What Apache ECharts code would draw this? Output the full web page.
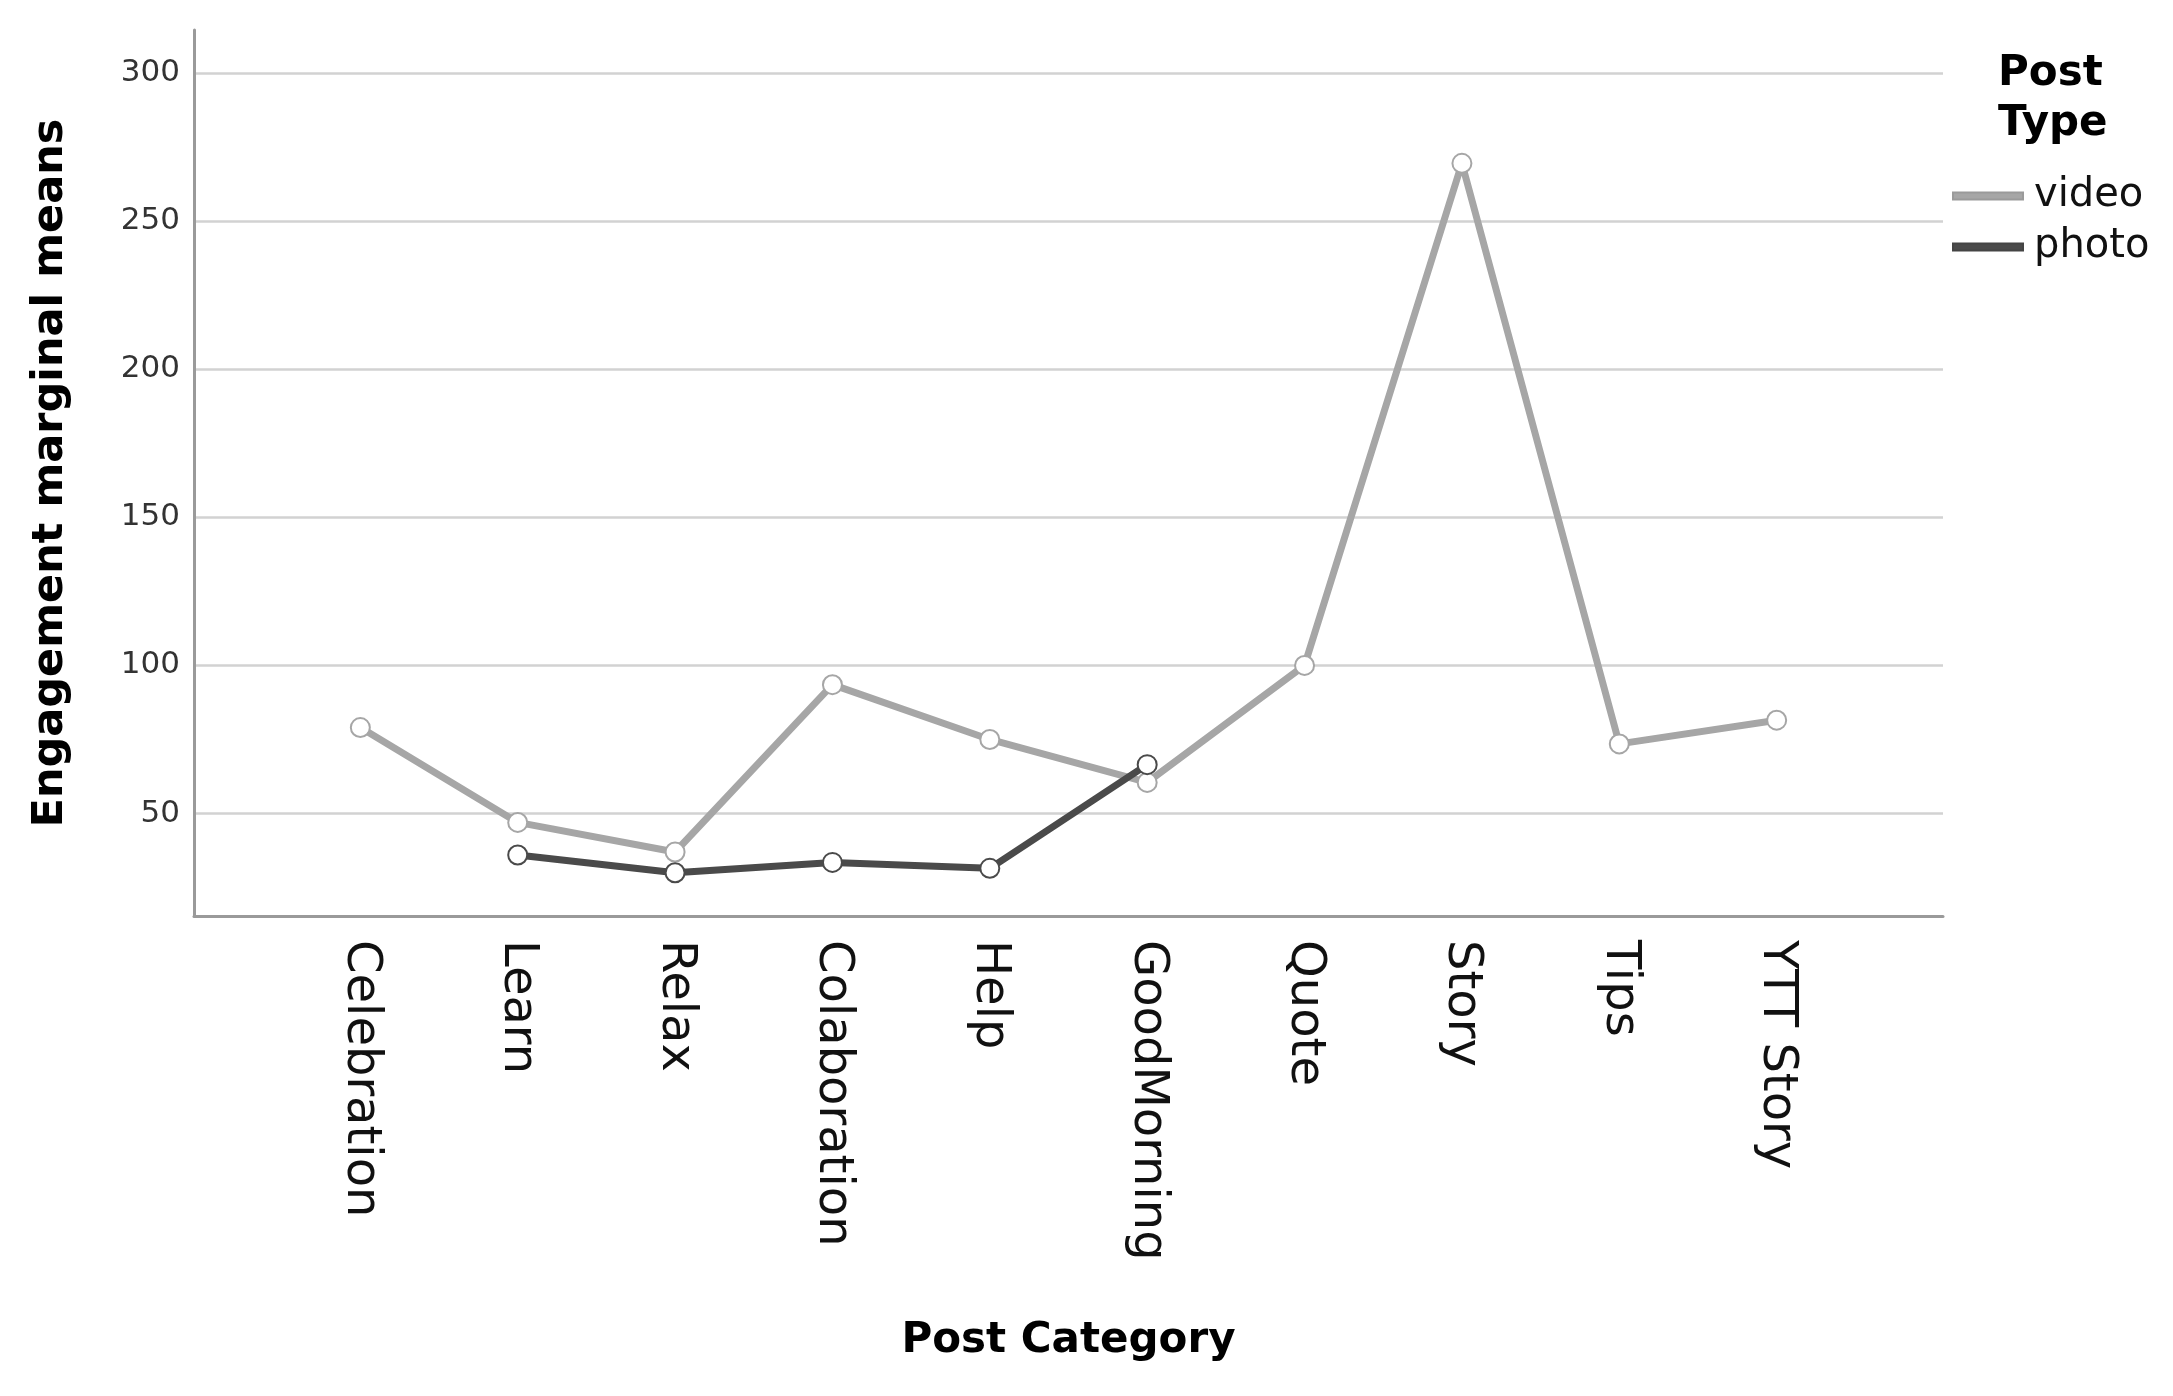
<!DOCTYPE html>
<html>
<head>
<meta charset="utf-8">
<script src="https://cdn.jsdelivr.net/npm/echarts@6/dist/echarts.min.js"></script>
<style>html,body{margin:0;padding:0;background:#fff;}#chart{width:2173px;height:1396px;}</style>
</head>
<body>
<div id="chart"></div>
<script>
const categories = ['Celebration','Learn','Relax','Colaboration','Help','GoodMorning','Quote','Story','Tips','YTT Story'];
const videoValues = [79, 47, 37, 93.5, 75, 60.5, 100, 269.5, 73.5, 81.5];
const photoValues = [null, 36, 30, 33.5, 31.5, 66.5, null, null, null, null];
const seriesNames = ['video', 'photo'];
const yTitle = 'Engagement marginal means';
const xTitle = 'Post Category';
const legendTitle = 'Post\nType';

const toPairs = vals => vals.map((v, i) => [i, v]);
const catIndices = categories.map((_, i) => i);
const FONT = 'DejaVu Sans';

const chart = echarts.init(document.getElementById('chart'));
chart.setOption({
  animation: false,
  backgroundColor: '#ffffff',
  textStyle: { fontFamily: FONT },
  title: {
    text: legendTitle,
    left: 1993, top: 44,
    textStyle: { fontFamily: FONT, fontSize: 42, fontWeight: 'bold', color: '#000', lineHeight: 50 }
  },
  legend: {
    orient: 'vertical',
    left: 1947, top: 169,
    icon: 'rect',
    itemWidth: 70, itemHeight: 7, itemGap: 7,
    textStyle: { fontFamily: FONT, fontSize: 40, color: '#111', lineHeight: 44, padding: [0,0,0,6] },
    data: seriesNames
  },
  grid: { left: 194, right: 230, top: 30, bottom: 480, outerBoundsMode: 'none' },
  xAxis: {
    type: 'value',
    min: -1.057, max: 10.057,
    name: xTitle,
    nameLocation: 'middle',
    nameGap: 404,
    nameTextStyle: { fontFamily: FONT, fontSize: 42, fontWeight: 'bold', color: '#000' },
    axisLine: { onZero: false, lineStyle: { color: '#9a9a9a', width: 3 } },
    axisTick: { show: false },
    splitLine: { show: false },
    axisLabel: {
      rotate: -90, margin: 24,
      customValues: catIndices,
      fontFamily: FONT, fontSize: 48, color: '#111',
      formatter: v => (categories[v] !== undefined ? categories[v] : '')
    }
  },
  yAxis: {
    type: 'value',
    min: 15.4, max: 314.5,
    name: yTitle,
    nameLocation: 'middle',
    nameRotate: 90,
    nameGap: 122,
    nameTextStyle: { fontFamily: FONT, fontSize: 43, fontWeight: 'bold', color: '#000' },
    axisLine: { show: true, onZero: false, lineStyle: { color: '#9a9a9a', width: 3 } },
    axisTick: { show: false },
    axisLabel: { fontFamily: FONT, fontSize: 31, color: '#333', margin: 14, showMinLabel: false, showMaxLabel: false },
    splitLine: { show: true, showMinLine: false, showMaxLine: false, lineStyle: { color: '#d2d2d2', width: 2.5 } }
  },
  series: [
    {
      name: seriesNames[0], type: 'line',
      data: toPairs(videoValues),
      connectNulls: false,
      lineStyle: { color: '#a6a6a6', width: 7 },
      itemStyle: { color: '#a6a6a6', borderColor: '#9a9a9a', borderWidth: 2.5 },
      symbol: 'emptyCircle', symbolSize: 19
    },
    {
      name: seriesNames[1], type: 'line',
      data: toPairs(photoValues),
      connectNulls: false,
      lineStyle: { color: '#4a4a4a', width: 7 },
      itemStyle: { color: '#4a4a4a', borderColor: '#444444', borderWidth: 2.5 },
      symbol: 'emptyCircle', symbolSize: 19
    }
  ]
});
</script>
</body>
</html>
